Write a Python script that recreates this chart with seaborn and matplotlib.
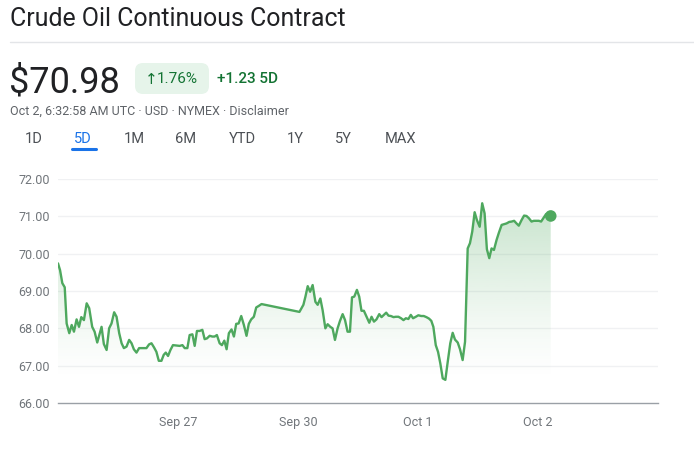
import numpy as np
import pandas as pd
import matplotlib
matplotlib.use("Agg")
import matplotlib.pyplot as plt
import matplotlib.transforms as mtransforms
from matplotlib.patches import FancyBboxPatch, Polygon
import seaborn as sns

# ── DATA ────────────────────────────────────────────────────
# x in trading-day units (0 = start of Sep 26 session)
day_pos = [
    0.000, 0.017, 0.036, 0.056, 0.072, 0.094, 0.114, 0.133, 0.155, 0.175,
    0.194, 0.216, 0.239, 0.260, 0.285, 0.305, 0.327, 0.363, 0.382, 0.405,
    0.426, 0.446, 0.468, 0.488, 0.510, 0.530, 0.549, 0.571, 0.593, 0.613,
    0.632, 0.654, 0.676, 0.709, 0.737, 0.759, 0.779, 0.800, 0.820, 0.840,
    0.862, 0.881, 0.898, 0.917, 0.937, 0.958, 0.987, 1.014, 1.037, 1.056,
    1.078, 1.097, 1.120, 1.139, 1.158, 1.180, 1.203, 1.222, 1.241, 1.264,
    1.286, 1.305, 1.324, 1.347, 1.366, 1.386, 1.405, 1.424, 1.446, 1.466,
    1.485, 1.505, 1.527, 1.549, 1.571, 1.590, 1.610, 1.632, 1.652, 1.673,
    1.696, 2.012, 2.045, 2.062, 2.081, 2.101, 2.122, 2.145, 2.164, 2.186,
    2.205, 2.228, 2.247, 2.269, 2.288, 2.308, 2.330, 2.350, 2.372, 2.392,
    2.413, 2.433, 2.450, 2.469, 2.491, 2.510, 2.529, 2.549, 2.571, 2.594,
    2.613, 2.633, 2.654, 2.677, 2.696, 2.716, 2.735, 2.754, 2.774, 2.796,
    2.815, 2.837, 2.859, 2.879, 2.899, 2.920, 2.940, 2.959, 2.982, 3.003,
    3.026, 3.048, 3.070, 3.092, 3.111, 3.128, 3.148, 3.167, 3.186, 3.206,
    3.228, 3.248, 3.269, 3.289, 3.308, 3.331, 3.350, 3.372, 3.392, 3.414,
    3.433, 3.452, 3.472, 3.491, 3.514, 3.535, 3.555, 3.574, 3.594, 3.613,
    3.633, 3.655, 3.674, 3.697, 3.718, 3.738, 3.760, 3.780, 3.801, 3.821,
    3.840, 3.863, 3.884, 3.904, 3.924, 3.946, 3.965, 3.988, 4.007, 4.026,
    4.048, 4.067, 4.090, 4.106,
]
price = [
    69.74, 69.56, 69.21, 69.10, 68.13, 67.87, 68.09, 67.91, 68.24, 68.04,
    68.30, 68.22, 68.67, 68.54, 68.04, 67.91, 67.62, 68.04, 67.58, 67.42,
    68.00, 68.13, 68.43, 68.31, 67.87, 67.60, 67.47, 67.51, 67.69, 67.60,
    67.44, 67.35, 67.47, 67.47, 67.47, 67.57, 67.60, 67.49, 67.37, 67.13,
    67.13, 67.29, 67.35, 67.26, 67.42, 67.55, 67.54, 67.53, 67.55, 67.47,
    67.47, 67.82, 67.84, 67.53, 67.93, 67.93, 67.96, 67.71, 67.73, 67.80,
    67.78, 67.78, 67.82, 67.60, 67.55, 67.67, 67.44, 67.87, 67.97, 67.78,
    68.12, 68.13, 68.33, 68.09, 67.80, 68.12, 68.24, 68.31, 68.56, 68.60,
    68.65, 68.44, 68.63, 68.85, 69.13, 68.98, 69.16, 68.71, 68.63, 68.80,
    68.49, 68.00, 68.11, 68.04, 68.00, 67.69, 68.00, 68.20, 68.38, 68.22,
    67.91, 67.91, 68.83, 68.85, 69.03, 68.85, 68.47, 68.47, 68.31, 68.15,
    68.31, 68.18, 68.24, 68.38, 68.30, 68.36, 68.42, 68.34, 68.33, 68.30,
    68.31, 68.31, 68.27, 68.22, 68.27, 68.25, 68.36, 68.27, 68.31, 68.35,
    68.33, 68.33, 68.30, 68.26, 68.20, 68.04, 67.55, 67.37, 67.06, 66.66,
    66.62, 67.11, 67.60, 67.88, 67.70, 67.62, 67.44, 67.15, 67.64, 70.14,
    70.28, 70.59, 71.11, 70.90, 70.72, 71.35, 71.08, 70.12, 69.88, 70.14,
    70.10, 70.37, 70.56, 70.77, 70.79, 70.81, 70.85, 70.86, 70.88, 70.81,
    70.75, 70.90, 71.02, 71.01, 70.95, 70.86, 70.88, 70.88, 70.88, 70.86,
    70.97, 71.06, 71.04, 71.01,
]
tick_pos = [1, 2, 3, 4]
tick_labels = ["Sep 27", "Sep 30", "Oct 1", "Oct 2"]
y_ticks = [66, 67, 68, 69, 70, 71, 72]
range_tabs = ["1D", "5D", "1M", "6M", "YTD", "1Y", "5Y", "MAX"]
tab_centers = [34, 83, 134, 186, 242, 295, 343, 400]

df = pd.DataFrame({"day": day_pos, "price": price})

# ── STYLE ───────────────────────────────────────────────────
sns.set_style("white")
plt.rcParams["font.family"] = ["Roboto", "DejaVu Sans"]

GREEN_LINE = "#4ea85e"
GREEN_TXT = "#137333"
GRAY_TXT = "#70757a"
W, H = 694, 450

fig = plt.figure(figsize=(W / 100, H / 100), dpi=100)


def fx(px):
    return px / W


def fy(py):
    return 1 - py / H


# ── HEADER ──────────────────────────────────────────────────
fig.text(fx(10), fy(26), "Crude Oil Continuous Contract", fontsize=17.9,
         color="#202124", va="baseline")
fig.add_artist(plt.Line2D([fx(10), 1], [fy(42), fy(42)], color="#e3e5e8",
                          lw=1, transform=fig.transFigure))
fig.text(fx(9), fy(93), "$70.98", fontsize=26, color="#202124", va="baseline")

badge = FancyBboxPatch((135, H - 94), 74, 31,
                       boxstyle="round,pad=0,rounding_size=8",
                       facecolor="#e6f4ea", edgecolor="none",
                       transform=mtransforms.IdentityTransform())
fig.add_artist(badge)
fig.text(fx(145), fy(79), "\u2191", fontsize=11, color=GREEN_TXT, va="center",
         family=["DejaVu Sans"])
fig.text(fx(157), fy(79), "1.76%", fontsize=11, color=GREEN_TXT, va="center")
fig.text(fx(217), fy(79), "+1.23 5D", fontsize=11, color=GREEN_TXT,
         va="center", weight="medium")
fig.text(fx(10), fy(111), "Oct 2, 6:32:58 AM UTC \u00b7 USD \u00b7 NYMEX \u00b7 Disclaimer",
         fontsize=9, color="#5f6368", va="center")

for lab, cx in zip(range_tabs, tab_centers):
    col = "#1a73e8" if lab == "5D" else "#4d5156"
    fig.text(fx(cx), fy(139), lab, fontsize=10.5, color=col,
             ha="center", va="center")
fig.add_artist(plt.Line2D([fx(72), fx(96)], [fy(149), fy(149)],
                          color="#1a73e8", lw=2.2, solid_capstyle="round",
                          transform=fig.transFigure))

# ── CHART ───────────────────────────────────────────────────
ax = fig.add_axes([fx(58), fy(403), fx(658) - fx(58), fy(179) - fy(403)])
ax.set_xlim(0, 5)
ax.set_ylim(66, 72)

for yv in y_ticks[1:]:
    ax.axhline(yv, color="#f0f1f3", lw=1, zorder=0)

# gradient fill under the line
ys = np.linspace(66, 72, 400)
alpha = 0.32 * np.clip((ys - 66.6) / (71.4 - 66.6), 0, 1) ** 1.3
rgb = matplotlib.colors.to_rgb(GREEN_LINE)
img = np.zeros((len(ys), 1, 4))
img[:, 0, :3] = rgb
img[:, 0, 3] = alpha
im = ax.imshow(img, extent=[0, 5, 66, 72], origin="lower", aspect="auto",
               zorder=1, interpolation="bilinear")
verts = np.column_stack([np.r_[day_pos, day_pos[-1], day_pos[0]],
                         np.r_[price, 66, 66]])
clip = Polygon(verts, closed=True, facecolor="none", edgecolor="none",
               transform=ax.transData)
ax.add_patch(clip)
im.set_clip_path(clip)

sns.lineplot(data=df, x="day", y="price", ax=ax, color=GREEN_LINE,
             linewidth=1.7, zorder=3)
sns.scatterplot(x=[day_pos[-1]], y=[price[-1]], ax=ax, color=GREEN_LINE,
                s=70, edgecolor="none", zorder=4)

ax.set_xlabel("")
ax.set_ylabel("")
ax.set_yticks(y_ticks)
ax.set_yticklabels([f"{v:.2f}" for v in y_ticks])
ax.set_xticks(tick_pos)
ax.set_xticklabels(tick_labels)
ax.tick_params(axis="y", length=0, pad=6, labelsize=9, labelcolor=GRAY_TXT)
ax.tick_params(axis="x", length=3.5, width=1.2, color="#80868b", pad=6,
               labelsize=9, labelcolor=GRAY_TXT)
for side in ["left", "right", "top"]:
    ax.spines[side].set_visible(False)
ax.spines["bottom"].set_color("#9aa0a6")
ax.spines["bottom"].set_linewidth(1)
ax.set_facecolor("none")

fig.savefig("out.png", dpi=100, facecolor="white")
